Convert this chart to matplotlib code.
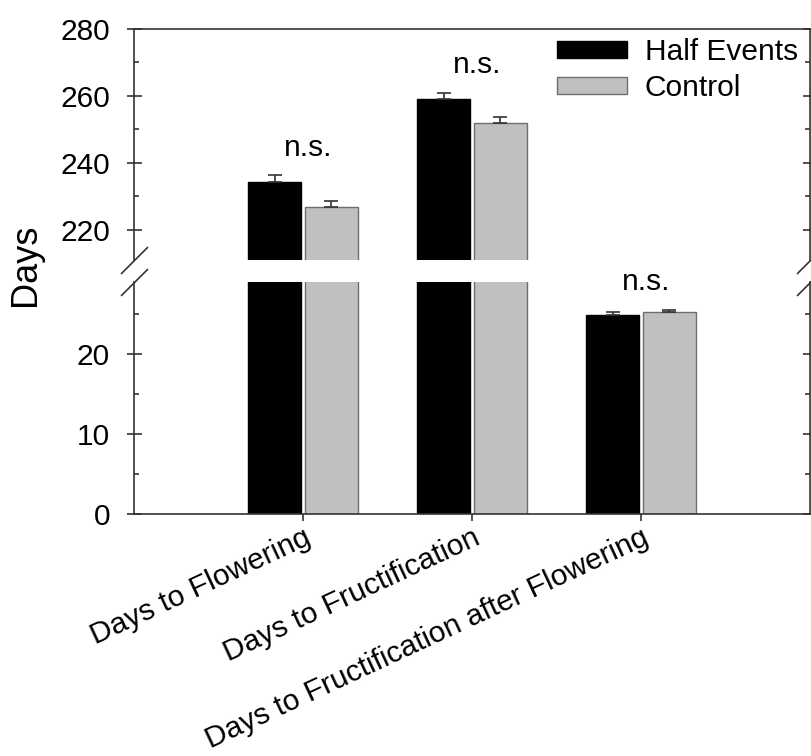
import numpy as np
import matplotlib.pyplot as plt

plt.rcParams['font.family'] = ['Liberation Sans', 'DejaVu Sans']
plt.rcParams['font.size'] = 21.5

# mean days per trait (+ upper SE)
categories = ["Days to Flowering", "Days to Fructification",
              "Days to Fructification after Flowering"]
half_events = [234.4, 259.2, 24.9]
half_err = [2.0, 1.8, 0.4]
control = [226.8, 251.8, 25.2]
control_err = [1.9, 1.8, 0.35]
sig_labels = ["n.s.", "n.s.", "n.s."]

x = np.arange(1, len(categories) + 1)
w = 0.315
off = 0.167
dark = '#333333'

fig = plt.figure(figsize=(8.12, 7.56), dpi=100)
ax_top = fig.add_axes([134 / 812, 1 - 260 / 756, 676 / 812, 231 / 756])
ax_bot = fig.add_axes([134 / 812, 1 - 514 / 756, 676 / 812, 232 / 756])

for ax in (ax_top, ax_bot):
    ax.bar(x - off, half_events, w, color='black', edgecolor='black', lw=1,
           label='Half Events')
    ax.bar(x + off, control, w, color='#c0c0c0', edgecolor='#6e6e6e', lw=1,
           label='Control')
    ax.errorbar(x - off, half_events, yerr=[np.zeros(len(x)), half_err],
                fmt='none', ecolor=dark, elinewidth=1.2, capsize=5, capthick=1.2)
    ax.errorbar(x + off, control, yerr=[np.zeros(len(x)), control_err],
                fmt='none', ecolor=dark, elinewidth=1.2, capsize=5, capthick=1.2)
    ax.set_xlim(0, 4)
    for s in ax.spines.values():
        s.set_color(dark)
        s.set_linewidth(1.2)
    ax.tick_params(axis='y', which='major', direction='inout', length=10.8,
                   width=1.2, pad=11.9, left=True, right=True, color=dark)
    ax.tick_params(axis='y', which='minor', direction='in', length=3.3,
                   width=1.2, left=True, right=True, color=dark)

# upper panel
ax_top.set_ylim(211, 280)
ax_top.set_yticks([220, 240, 260, 280])
ax_top.set_yticks([230, 250, 270], minor=True)
ax_top.spines['bottom'].set_visible(False)
ax_top.tick_params(axis='x', bottom=False, labelbottom=False)

# lower panel
ax_bot.set_ylim(0, 29)
ax_bot.set_yticks([0, 10, 20])
ax_bot.set_yticks([5, 15, 25], minor=True)
ax_bot.spines['top'].set_visible(False)
ax_bot.set_xticks(x)
ax_bot.set_xticklabels(categories, rotation=25, ha='right', va='top',
                       rotation_mode='anchor')
ax_bot.tick_params(axis='x', direction='out', length=5, width=1.2,
                   color=dark, pad=2)

# break marks on both spines
brk = dict(marker=[(-1, -1), (1, 1)], markersize=19.4, linestyle='none',
           color=dark, mec=dark, mew=1.2, clip_on=False)
ax_top.plot([0, 1], [0, 0], transform=ax_top.transAxes, **brk)
ax_bot.plot([0, 1], [1, 1], transform=ax_bot.transAxes, **brk)

# significance labels
for xi, h, he, c, ce, lab in zip(x, half_events, half_err, control, control_err, sig_labels):
    top = max(h + he, c + ce)
    ax = ax_top if top > 100 else ax_bot
    ax.annotate(lab, (xi + 0.03, top), xytext=(0, 14), textcoords='offset points',
                ha='center', va='baseline')

ax_top.legend(loc='upper left', bbox_to_anchor=(557 / 812, 1 - 38 / 756),
              bbox_transform=fig.transFigure, frameon=False, borderpad=0,
              borderaxespad=0, handlelength=2.34, handleheight=0.47,
              handletextpad=0.6, labelspacing=0.27)

fig.text(25.5 / 812, 1 - 265 / 756, 'Days', rotation=90, ha='center',
         va='center', fontsize=26)

fig.savefig('out.png', dpi=100)
